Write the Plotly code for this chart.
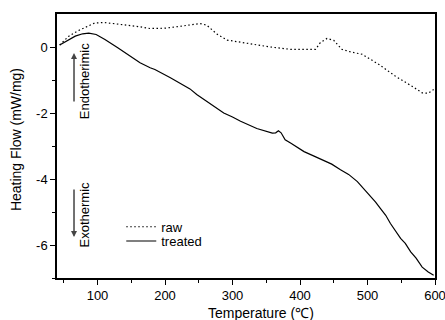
import plotly.graph_objects as go

raw_T = [44, 57, 70, 82, 96, 111, 136, 160, 178, 200, 227, 245, 252, 262, 277, 292, 310, 326,
         356, 386, 410, 423, 430, 440, 450, 462, 475, 492, 517, 541, 566, 581, 590, 598]
raw_y = [0.06, 0.32, 0.48, 0.60, 0.73, 0.74, 0.69, 0.62, 0.56, 0.57, 0.64, 0.69, 0.71, 0.66,
         0.39, 0.21, 0.15, 0.10, 0.00, -0.07, -0.07, -0.07, 0.13, 0.26, 0.20, -0.07, -0.15,
         -0.22, -0.53, -0.88, -1.19, -1.39, -1.40, -1.29]

treated_T = [44, 55, 67, 78, 87, 98, 111, 130, 151, 163, 178, 185, 208, 237, 247, 265, 287, 300,
             312, 336, 350, 359, 364, 368, 372, 378, 386, 400, 406, 420, 435, 447, 460, 472, 485,
             495, 505, 512, 519, 527, 534, 541, 549, 556, 564, 572, 581, 590, 598]
treated_y = [0.06, 0.20, 0.33, 0.40, 0.42, 0.38, 0.23, -0.02, -0.32, -0.48, -0.63, -0.68, -0.93,
             -1.27, -1.44, -1.70, -2.00, -2.12, -2.25, -2.47, -2.56, -2.61, -2.60, -2.54, -2.60,
             -2.81, -2.91, -3.09, -3.17, -3.30, -3.45, -3.55, -3.72, -3.86, -4.08, -4.30, -4.55,
             -4.70, -4.89, -5.10, -5.35, -5.55, -5.80, -5.95, -6.21, -6.40, -6.67, -6.82, -6.92]

x_ticks = [100, 200, 300, 400, 500, 600]
y_ticks = [-6, -4, -2, 0]
y_ticktext = ["-6", "-4", "-2", "0"]

FONT = "Liberation Sans, Arial, sans-serif"

fig = go.Figure()
fig.add_trace(go.Scatter(x=raw_T, y=raw_y, mode="lines", name="raw", legend="legend",
                         line=dict(color="black", width=1.2, dash="1.5px,2.5px")))
fig.add_trace(go.Scatter(x=treated_T, y=treated_y, mode="lines", name="treated", legend="legend2",
                         line=dict(color="black", width=1.2)))

axis_common = dict(showline=True, linecolor="black", linewidth=1.5, mirror=True,
                   ticks="outside", ticklen=5, tickwidth=1, tickcolor="black",
                   showgrid=False, zeroline=False, automargin=False,
                   ticklabeloverflow="allow",
                   tickfont=dict(family=FONT, size=13, color="black"))

fig.update_xaxes(range=[40, 600], tickmode="array", tickvals=x_ticks,
                 minor=dict(ticks="outside", ticklen=3, tickcolor="black",
                            tickvals=[50, 150, 250, 350, 450, 550]),
                 **axis_common)
fig.update_yaxes(range=[-7, 1], tickmode="array", tickvals=y_ticks, ticktext=y_ticktext,
                 minor=dict(ticks="outside", ticklen=3, tickcolor="black",
                            tickvals=[-7, -5, -3, -1]),
                 **axis_common)

fig.add_annotation(text="Temperature (℃)", xref="paper", yref="paper", x=0.541, y=-0.133,
                   showarrow=False, font=dict(family=FONT, size=14, color="black"),
                   xanchor="center", yanchor="middle")
fig.add_annotation(text="Heating Flow (mW/mg)", xref="paper", yref="paper", x=-0.108, y=0.523,
                   showarrow=False, textangle=-90,
                   font=dict(family=FONT, size=14, color="black"),
                   xanchor="center", yanchor="middle")

# Endothermic / Exothermic indicators
fig.add_annotation(text="Endotherimic", xref="paper", yref="paper", x=0.073, y=0.744,
                   showarrow=False, textangle=-90,
                   font=dict(family=FONT, size=13, color="black"),
                   xanchor="center", yanchor="middle")
fig.add_annotation(text="", xref="paper", yref="paper", x=0.045, y=0.852,
                   ax=0, ay=50, axref="pixel", ayref="pixel", showarrow=True,
                   arrowhead=2, arrowsize=0.8, arrowwidth=1.5, arrowcolor="#444")
fig.add_annotation(text="Exothermic", xref="paper", yref="paper", x=0.073, y=0.239,
                   showarrow=False, textangle=-90,
                   font=dict(family=FONT, size=13, color="black"),
                   xanchor="center", yanchor="middle")
fig.add_annotation(text="", xref="paper", yref="paper", x=0.045, y=0.155,
                   ax=0, ay=-49, axref="pixel", ayref="pixel", showarrow=True,
                   arrowhead=2, arrowsize=0.8, arrowwidth=1.5, arrowcolor="#444")

legend_common = dict(xanchor="left", yanchor="middle", bgcolor="rgba(0,0,0,0)", borderwidth=0,
                     font=dict(family=FONT, size=13, color="black"), itemwidth=30)

fig.update_layout(
    width=445, height=320,
    margin=dict(l=57, r=10, t=14, b=42, autoexpand=False),
    plot_bgcolor="white", paper_bgcolor="white",
    showlegend=True,
    legend=dict(x=0.17, y=0.194, **legend_common),
    legend2=dict(x=0.17, y=0.14, **legend_common),
)

fig.write_html("out.html")
